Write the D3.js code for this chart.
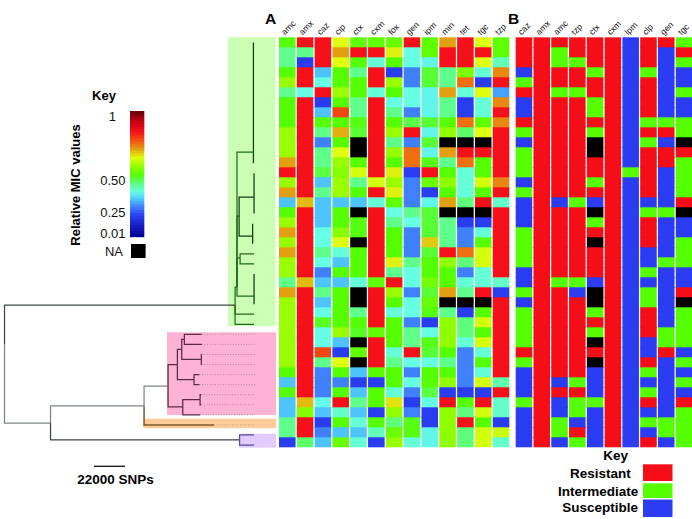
<!DOCTYPE html>
<html><head><meta charset="utf-8">
<script src="https://cdnjs.cloudflare.com/ajax/libs/d3/7.8.5/d3.min.js"></script>
<style>html,body{margin:0;padding:0;background:#fff}svg{display:block}text{font-family:"Liberation Sans",Arial,sans-serif}</style>
</head><body><svg id="c" width="692" height="519"></svg>
<script>
// ---------- Panel A: relative MIC values (null = NA), one list per antibiotic, top to bottom
const micCols = ["amc","amx","caz","cip","ctx","cxm","fox","gen","ipm","min","tet","tgc","tzp"];
const amc = [.50,.42,.42,.50,.57,.42,.50,.50,.50,.57,.57,.57,.70,.84,.57,.70,.30,.50,.57,.70,.57,.70,.57,.57,.42,.70,.57,.57,.57,.57,.57,.57,.57,.50,.30,.50,.30,.30,.42,.42,.17];
const amx = [.84,.42,.17,.84,.84,.36,.84,.84,.84,.84,.84,.84,.84,.84,.84,.84,.68,.84,.84,.84,.84,.84,.84,.84,.68,.84,.84,.84,.84,.84,.84,.84,.84,.84,.84,.84,.68,.55,.84,.84,.44];
const caz = [.84,.84,.84,.30,.36,.84,.17,.30,.50,.42,.24,.42,.42,.46,.30,.42,.30,.30,.30,.36,.36,.42,.36,.24,.30,.42,.30,.36,.48,.36,.36,.78,.42,.24,.24,.24,.36,.30,.17,.24,.30];
const cip = [.63,.70,.63,.50,.50,.57,.50,.78,.50,.69,.50,.63,.57,.55,.57,.57,.30,.50,.50,.55,.63,.37,.30,.50,.30,.50,.50,.50,.50,.57,.30,.17,.63,.50,.24,.50,.84,.38,.50,.30,.52];
const ctx = [.51,.84,.50,.42,.50,.50,.42,.42,.49,.47,null,null,.50,.62,.42,.50,.30,null,.49,.49,null,.50,.50,.50,.37,null,null,.42,.50,.48,null,.51,null,.30,.17,.30,.42,.30,.37,.30,.37];
const cxm = [.51,.84,.37,.84,.84,.37,.84,.84,.84,.84,.84,.84,.84,.84,.62,.84,.37,.84,.84,.84,.84,.84,.84,.84,.51,.84,.84,.84,.84,.51,.84,.84,.84,.50,.17,.50,.50,.17,.50,.39,.17];
const fox = [.52,.64,.50,.17,.57,.50,.36,.42,.50,.57,.42,.57,.50,.64,.57,.64,.51,.36,.42,.50,.50,.50,.64,.42,.84,.57,.50,.37,.50,.50,.50,.37,.42,.50,.50,.37,.65,.56,.43,.52,.57];
const gen = [.84,.36,.36,.24,.24,.36,.36,.24,.46,.84,.24,.74,.74,.17,.24,.24,.24,.42,.36,.24,.24,.24,.42,.36,.36,.24,.36,.36,.24,.42,.42,.84,.36,.24,.36,.24,.17,.24,.49,.49,.37];
const ipm = [.51,.51,.35,.47,.47,.35,.35,.35,.47,.35,.47,.35,.49,.84,.52,.17,.35,.47,.47,.47,.67,.47,.50,.50,.53,.47,.52,.49,.17,.36,.49,.47,.36,.50,.50,.46,.36,.17,.17,.35,.35];
const minM = [.70,.84,.84,.42,.42,.70,.42,.42,.50,.56,null,.70,.42,.50,.56,.50,.70,null,.42,.42,.42,.84,.56,.50,.50,.70,null,.42,.56,.56,.56,.50,.42,.50,.56,.17,.84,.56,.56,.56,.56];
const tet = [.84,.84,.84,.54,.74,.37,.17,.17,.74,.44,null,.84,.74,.37,.37,.37,.43,null,.17,.24,.24,.74,.43,.24,.37,.42,null,.17,.43,.43,.37,.24,.24,.24,.24,.17,.50,.43,.84,.43,.43];
const tgc = [.63,.84,.63,.37,.17,.63,.37,.37,.51,.63,null,.84,.50,.50,.62,.50,.84,null,.17,.37,.50,.62,.62,.37,.37,.84,null,.50,.62,.50,.62,.37,.50,.37,.62,.17,.84,.62,.50,.62,.62];
const tzp = [.51,.51,.39,.72,.84,.27,.72,.84,.72,.84,.84,.84,.84,.84,.72,.84,.38,.84,.84,.84,.84,.84,.84,.84,.38,.17,.84,.84,.84,.84,.84,.84,.84,.84,.40,.84,.38,.38,.17,.61,.38];
const micValues = [amc,amx,caz,cip,ctx,cxm,fox,gen,ipm,minM,tet,tgc,tzp];

// ---------- Panel B: categorical resistance (R/I/S, N = NA)
const resCols = ["caz","amx","amc","tzp","ctx","cxm","lpm","clp","gen","tgc"];
const bCaz = "RRRSIRSSRISIIISISSSIIIISSISIIIIRISSSISSSS".split("");
const bAmx = "RRRRRRRRRRRRRRRRRRRRRRRRRRRRRRRRRRRRRRRRR".split("");
const bAmc = "RIIRRIRRRRRRRRRRSRRRRRRRIRRRRRRRRRSRSSIIS".split("");
const bTzp = "RRIRRIRRRRRRRRRRIRRRRRRRISRRRRRRRRIRIISRI".split("");
const bCtx = "RRRIRRIIRINNRRIRSNIRNRRRSNNIRINRNSSSISSSS".split("");
const bCxm = "RRRRRRRRRRRRRRRRRRRRRRRRRRRRRRRRRRRRRRRRR".split("");
const bLpm = "SSSSSSSSSSSSSISSSSSSSSSSSSSSSSSSSSSSSSSSS".split("");
const bClp = "RRRIRRRRIRIRRRRRSIRRRSSISIIRRRSSRISIRSISR".split("");
const bGen = "RSSSSSSSIRSRRSSSSISSSSISSSSSSIIRSSSSSSIIS".split("");
const bTgc = "IRISSISSIINRIIIIRNSSIIISSRNIIIISISISRIIII".split("");
const resValues = [bCaz,bAmx,bAmc,bTzp,bCtx,bCxm,bLpm,bClp,bGen,bTgc];

// ---------- Phylogeny nodes: parent index, distance from root (SNPs), row position, branch colour group
const treeNodes = [
 [-1,0,30.0,"root"],[0,163650,26.09,"root"],[0,32660,37.82,"gray"],[2,99045,36.1,"gray"],[2,166850,39.5,"root"],
 [4,177100,39,"purple"],[4,177100,40,"purple"],[3,148700,38,"orange"],[3,116085,34.15,"gray"],
 [8,122700,32,"pink"],[8,126500,36.2,"pink"],[9,125800,30.5,"pink"],[9,134500,33.5,"pink"],
 [11,127650,29.5,"pink"],[11,139700,31.5,"pink"],[13,140000,29,"pink"],[13,140000,30,"pink"],
 [14,139900,31,"pink"],[14,139900,32,"pink"],[12,138300,33,"pink"],[12,138300,34,"pink"],
 [10,138800,35.5,"pink"],[21,139500,35,"pink"],[21,139500,36,"pink"],[10,138800,37,"pink"],
 [1,165000,24.3,"green"],[1,177100,27,"green"],[1,177100,28,"green"],
 [25,176650,10.9,"green"],[28,176650,0,"dark"],[28,176650,12,"dark"],
 [25,166500,17.25,"green"],[31,177100,15.36,"dark"],[32,177100,13,"dark"],[32,177100,17,"dark"],
 [31,176100,19.23,"dark"],[35,176100,18,"dark"],[35,176100,20,"dark"],
 [25,167200,21.4,"green"],[38,177100,21,"green"],[38,177100,22,"green"],
 [25,177100,25.2,"green"],[41,177100,23,"dark"],[41,177100,26,"dark"]
];
const dottedTipNodes = [7,15,16,17,18,19,20,22,23,24];
const tipAlignSNP = 177800;
const scaleBarSNP = 22000;

const cladeColor = {root:"#3c4646",dark:"#123a12",green:"#1f6a1f",gray:"#7f8585",purple:"#5b4a9e",orange:"#7a5a30",pink:"#5a2a4a"};
// ---------- Colour keys
const micStops = [0,.17,.24,.30,.36,.42,.50,.57,.63,.70,.74,.78,.84,.93,1];
const micColors = ["#000090","#2a3cf0","#3f80ff","#4dc4ff","#66ffe6","#5fff8c","#55ff00","#99ff00","#dfff10","#e2a010","#ee7010","#f04810","#f5101a","#c00010","#600008"];
const keyLabels = ["1","0.50","0.25","0.01"];
const keyLabelPos = [.96,.45,.19,.03];
const resKeys = ["R","I","S"];
const resNames = ["Resistant","Intermediate","Susceptible"];
const resColors = {R:"#f50d17",I:"#55ff00",S:"#2b3cf2",N:"#000000"};

const svg = d3.select("#c");
const micColor = d3.scaleLinear().domain(micStops).range(micColors);

// Scales
const rowIdx = d3.range(41);
const yRow = d3.scaleBand().domain(rowIdx).range([37.3,447.3]);
const xA = d3.scaleBand().domain(micCols).range([279,509.3]).paddingInner(.07);
const xB = d3.scaleBand().domain(resCols).range([515.7,692.3]).paddingInner(.07);
const xSNP = d3.scaleLinear().domain([0,scaleBarSNP]).range([4.5,4.5+31]);
const yTip = d3.scaleLinear().domain([0,40]).range([42.5,445]);

// Clade backgrounds
const cladeBoxes = [
 {x:228,w:47.7,y:37,h:289,f:"#ccffb4"},
 {x:167,w:109,y:332.3,h:82.7,f:"#ffb3d4"},
 {x:143.3,w:132.7,y:418.7,h:9.5,f:"#ffcc99"},
 {x:239,w:37,y:433.7,h:14,f:"#e2ccff"}
];
svg.append("g").selectAll("rect").data(cladeBoxes).join("rect")
  .attr("x",d=>d.x).attr("y",d=>d.y).attr("width",d=>d.w).attr("height",d=>d.h).attr("fill",d=>d.f);

// Tree
const gT = svg.append("g").attr("fill","none");
gT.selectAll("path.dot").data(dottedTipNodes).join("path").attr("class","dot")
  .attr("d",i=>`M${xSNP(treeNodes[i][1])},${yTip(treeNodes[i][2])}H${xSNP(tipAlignSNP)}`)
  .attr("stroke",i=>treeNodes[i][3]==="orange"?"#b59a78":"#b5809c").attr("stroke-width",.9).attr("stroke-dasharray","1 1.6");
gT.selectAll("path.br").data(treeNodes.filter(n=>n[0]>=0)).join("path").attr("class","br")
  .attr("d",n=>{const p=treeNodes[n[0]];return `M${xSNP(p[1])},${yTip(p[2])}V${yTip(n[2])}H${xSNP(n[1])}`;})
  .attr("stroke",n=>cladeColor[n[3]])
  .attr("stroke-width",n=>n[3]==="orange"?1.5:1.25);

// Heatmap A (cells overlap slightly so that no seams appear between rows)
const gA = svg.append("g");
micCols.forEach((c,j)=>{
  gA.selectAll(null).data(micValues[j]).join("rect")
    .attr("x",xA(c)).attr("width",xA.bandwidth())
    .attr("y",(d,i)=>yRow(i)).attr("height",(d,i)=>yRow.bandwidth()+(i<40?.7:0))
    .attr("fill",d=>d===null?"#000":micColor(d));
});
// Heatmap B
const gB = svg.append("g");
resCols.forEach((c,j)=>{
  gB.selectAll(null).data(resValues[j]).join("rect")
    .attr("x",xB(c)).attr("width",xB.bandwidth())
    .attr("y",(d,i)=>yRow(i)).attr("height",(d,i)=>yRow.bandwidth()+(i<40?.7:0))
    .attr("fill",d=>resColors[d]);
});
// Column labels
function colLabels(cols,x){
  svg.append("g").selectAll("text").data(cols).join("text")
    .attr("transform",d=>`translate(${x(d)+x.bandwidth()/2-2.5},35.5) rotate(-45)`)
    .attr("font-size",8.6).attr("fill","#111").text(d=>d);
}
colLabels(micCols,xA); colLabels(resCols,xB);
// Panel letters
svg.append("text").attr("x",265).attr("y",24).attr("font-size",15.5).attr("font-weight","bold").text("A");
svg.append("text").attr("x",508).attr("y",24).attr("font-size",15.5).attr("font-weight","bold").text("B");

// MIC key
const yKey = d3.scaleLinear().domain([0,1]).range([236.7,111]);
const keySteps = d3.range(0,1,1/42);
svg.append("g").selectAll("rect").data(keySteps).join("rect")
  .attr("x",130).attr("width",14.3)
  .attr("y",d=>yKey(d+1/42)).attr("height",yKey(0)-yKey(1/42)+.5)
  .attr("fill",d=>micColor(d+1/84));
svg.append("g").selectAll("text").data(keyLabels).join("text")
  .attr("x",(d,i)=>i===0?116:125.5).attr("y",(d,i)=>yKey(keyLabelPos[i])+4.6)
  .attr("text-anchor","end").attr("font-size",13).attr("fill","#111").text(d=>d);
svg.append("text").attr("x",123).attr("y",255.6).attr("text-anchor","end").attr("font-size",13).attr("fill","#111").text("NA");
svg.append("rect").attr("x",131).attr("y",244).attr("width",14.6).attr("height",14).attr("fill","#000");
svg.append("text").attr("x",104).attr("y",100).attr("text-anchor","middle").attr("font-size",13).attr("font-weight","bold").text("Key");
svg.append("text").attr("transform","translate(80,185) rotate(-90)").attr("text-anchor","middle")
  .attr("font-size",13).attr("font-weight","bold").text("Relative MIC values");

// Scale bar
svg.append("line").attr("x1",94).attr("x2",94+xSNP(scaleBarSNP)-xSNP(0)).attr("y1",466.3).attr("y2",466.3).attr("stroke","#111").attr("stroke-width",1.3);
svg.append("text").attr("x",115.5).attr("y",484).attr("text-anchor","middle").attr("font-size",13.5).attr("font-weight","bold").text(scaleBarSNP+" SNPs");

// Resistance key
svg.append("text").attr("x",615.7).attr("y",460).attr("text-anchor","middle").attr("font-size",13.5).attr("font-weight","bold").text("Key");
const keyY = [464.3,483.3,499.5], keyH=[16.7,14.7,17.5], keyBase=[478.3,495.7,511.7], keyEnd=[630.7,638.3,638];
resKeys.forEach((k,i)=>{
  svg.append("rect").attr("x",643).attr("y",keyY[i]).attr("width",29.5).attr("height",keyH[i]).attr("fill",resColors[k]);
  svg.append("text").attr("x",keyEnd[i]).attr("y",keyBase[i]).attr("text-anchor","end").attr("font-size",13.5).attr("font-weight","bold").text(resNames[i]);
});
</script></body></html>
